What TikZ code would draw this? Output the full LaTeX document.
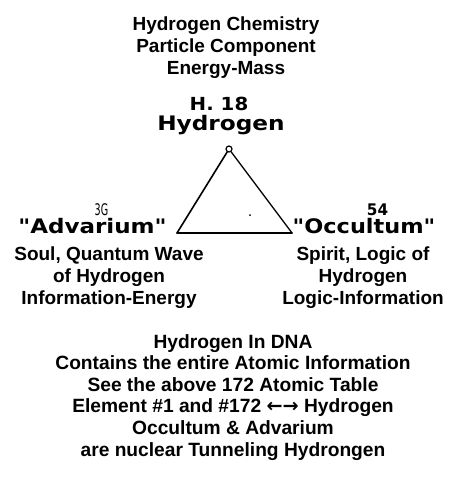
\documentclass[tikz,border=0pt]{standalone}
\usepackage{fontspec}
\usepackage{graphicx}
\setmainfont{Liberation Sans}
\newfontfamily\labfont{DejaVu Sans}
\begin{document}
\begin{tikzpicture}[x=1pt,y=-1pt,
  blk/.style={align=center, inner sep=0pt, anchor=north, font=\fontsize{19}{22}\selectfont\bfseries},
  blkb/.style={blk, font=\fontsize{19.2}{21.6}\selectfont\bfseries},
  lab/.style={inner sep=0pt, anchor=base, font=\labfont\bfseries\fontsize{20}{24}\selectfont},
  num/.style={inner sep=0pt, anchor=base, font=\labfont\bfseries\fontsize{16}{18}\selectfont},
  edge/.style={draw, line width=1.6pt, line cap=round, line join=round}]
\useasboundingbox (0,0) rectangle (456,482);
\fill[white] (0,0) rectangle (456,482);

% title
\node[blk] (title) at (226,17) {Hydrogen Chemistry\\Particle Component\\Energy-Mass};

% vertex labels
\node[num, font=\labfont\bfseries\fontsize{18}{20}\selectfont] (hnum) at (219,110) {\scalebox{1.1}[1]{H. 18}};
\node[lab] (hyd) at (221,130) {\scalebox{1.16}[1]{Hydrogen}};
\node[num, font=\labfont\fontsize{16}{18}\selectfont] (anum) at (101.5,215) {\scalebox{0.6}[1]{3G}};
\node[lab] (adv) at (92.5,233) {\scalebox{1.15}[1]{"Advarium"}};
\node[num] (onum) at (377.5,215) {\scalebox{0.95}[1]{54}};
\node[lab] (occ) at (364,233) {\scalebox{1.12}[1]{"Occultum"}};

% triangle
\node[circle, draw, line width=1.2pt, minimum size=6pt, inner sep=0pt] (top) at (229,149) {};
\coordinate (L) at (177,233);
\coordinate (R) at (292,233);
\draw[edge] (top) -- (L);
\draw[edge, line width=1.3pt] (top) -- (R);
\draw[edge] (L) -- (R);
\fill (250,215) circle (1pt);

% side texts
\node[blk] (soul) at (109,247) {Soul, Quantum Wave\\of Hydrogen\\Information-Energy};
\node[blk] (spirit) at (363,247) {Spirit, Logic of\\Hydrogen\\Logic-Information};

% bottom text
\node[blkb] (dna) at (233,334) {Hydrogen In DNA\\Contains the entire Atomic Information\\See the above 172 Atomic Table\\Element \#1 and \#172 {\labfont\bfseries ←→} Hydrogen\\Occultum \& Advarium\\are nuclear Tunneling Hydrongen};
\end{tikzpicture}
\end{document}
